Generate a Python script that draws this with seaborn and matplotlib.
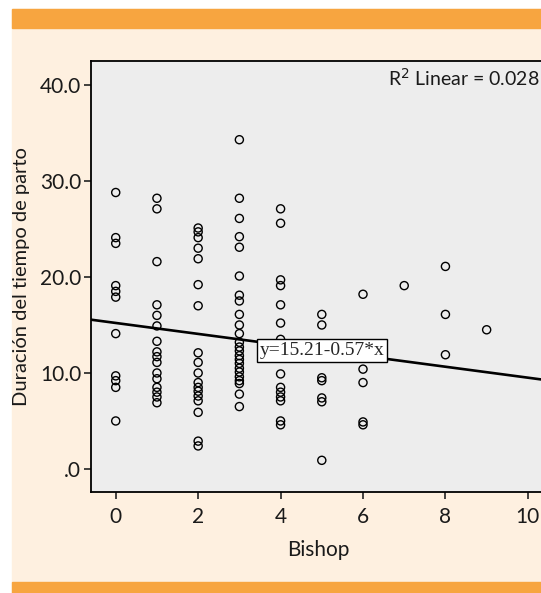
import numpy as np
import pandas as pd
import seaborn as sns
import matplotlib.pyplot as plt
from matplotlib.patches import Rectangle

# Bishop score and labour duration
bishop_0 = [28.8, 24.1, 23.5, 19.1, 18.5, 17.9, 14.1, 9.7, 9.2, 8.5, 5.0]
bishop_1 = [28.2, 27.1, 21.6, 17.1, 16.0, 14.9, 13.3, 12.2, 11.7, 11.1, 10.0,
            9.4, 8.5, 8.0, 7.5, 6.9]
bishop_2 = [25.1, 24.7, 24.1, 23.0, 21.9, 19.2, 17.0, 12.1, 11.1, 10.0, 9.0,
            8.5, 8.1, 7.6, 7.1, 5.9, 2.9, 2.4]
bishop_3 = [34.3, 28.2, 26.1, 24.2, 23.1, 20.1, 18.1, 17.5, 16.1, 15.0, 14.1,
            13.2, 12.7, 12.3, 11.8, 11.4, 11.0, 10.5, 10.1, 9.6, 9.2, 8.9,
            7.8, 6.5]
bishop_4 = [27.1, 25.6, 19.7, 19.1, 17.1, 15.2, 13.5, 9.9, 8.5, 8.0, 7.5, 7.1,
            5.0, 4.6]
bishop_5 = [16.1, 15.0, 9.5, 9.2, 7.4, 7.0, 0.9]
bishop_6 = [18.2, 10.4, 9.0, 4.9, 4.6]
bishop_7 = [19.1]
bishop_8 = [21.1, 16.1, 11.9]
bishop_9 = [14.5]

columns = [bishop_0, bishop_1, bishop_2, bishop_3, bishop_4,
           bishop_5, bishop_6, bishop_7, bishop_8, bishop_9]

intercept = 15.21
slope = -0.57
r2 = 0.028

y_ticks = [0, 10, 20, 30, 40]
y_tick_labels = [".0", "10.0", "20.0", "30.0", "40.0"]
x_ticks = [0, 2, 4, 6, 8, 10]

df = pd.DataFrame({
    "Bishop": [b for b, col in enumerate(columns) for _ in col],
    "Duracion": [v for col in columns for v in col],
})

orange = "#F7A540"
cream = "#FEF0E0"

sns.set_style("ticks")
plt.rcParams["font.family"] = ["Lato", "DejaVu Sans"]

W, H = 541, 593
fig = plt.figure(figsize=(W / 100, H / 100), dpi=100)
fig.patch.set_facecolor("white")

# cream panel with orange bands top and bottom
fig.patches.append(Rectangle((12 / W, 0), 1 - 12 / W, 1 - 9 / H,
                             transform=fig.transFigure, color=cream, zorder=-3))
fig.patches.append(Rectangle((12 / W, 1 - 28 / H), 1 - 12 / W, 19 / H,
                             transform=fig.transFigure, color=orange, zorder=-2))
fig.patches.append(Rectangle((12 / W, 0), 1 - 12 / W, 11 / H,
                             transform=fig.transFigure, color=orange, zorder=-2))

ax = fig.add_axes([91 / W, (H - 492) / H, (W - 91) / W + 0.01, 431 / H])
ax.set_facecolor("#EDEDED")

sns.scatterplot(data=df, x="Bishop", y="Duracion", ax=ax, marker="o", s=34,
                facecolor="none", edgecolor="black", linewidth=1.0, zorder=3)

xlim = (-0.6, 10.45)
ylim = (-2.4, 42.5)
xs = np.array(xlim)
ax.plot(xs, intercept + slope * xs, color="black", lw=1.9, zorder=4)

ax.set_xlim(*xlim)
ax.set_ylim(*ylim)
ax.set_xticks(x_ticks)
ax.set_yticks(y_ticks)
ax.set_yticklabels(y_tick_labels)
ax.tick_params(labelsize=15, length=5, width=1.2, color="#222222",
               labelcolor="#1a1a1a")
ax.tick_params(axis="x", pad=6)
ax.tick_params(axis="y", pad=2)

for side in ["left", "bottom", "top"]:
    ax.spines[side].set_color("black")
    ax.spines[side].set_linewidth(1.3)
ax.spines["right"].set_visible(False)

ax.set_xlabel("Bishop", fontsize=15, color="#1a1a1a", labelpad=9)
ax.set_ylabel("Duración del tiempo de parto", fontsize=14.5,
              color="#1a1a1a", labelpad=7)

ax.text(0.985, 0.96, "R$^2$ Linear = " + f"{r2:.3f}", transform=ax.transAxes,
        ha="right", va="center", fontsize=14, color="#1a1a1a")

ax.text(5.0, 12.3, f"y={intercept:.2f}{slope:.2f}*x", ha="center", va="center",
        fontsize=14, family="Liberation Serif", zorder=5,
        bbox=dict(boxstyle="square,pad=0.15", fc="white", ec="black", lw=1.0))

fig.savefig("out.png", dpi=100, facecolor=fig.get_facecolor())
